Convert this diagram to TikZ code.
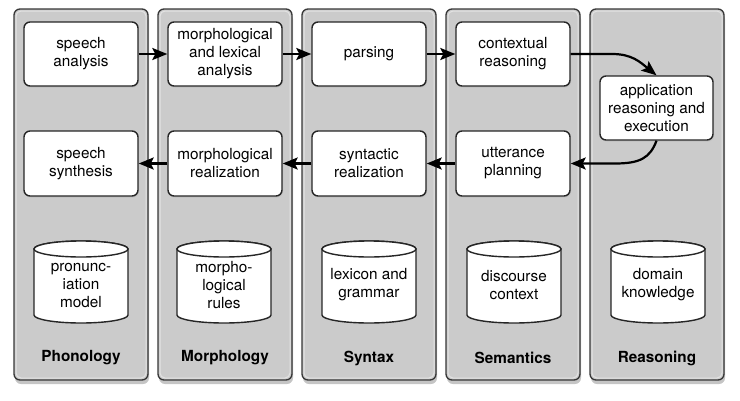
\documentclass[tikz,border=0pt]{standalone}
\usepackage{fontspec}
\setmainfont{TeX Gyre Heros}
\usetikzlibrary{arrows.meta,shadows}
\definecolor{panelgray}{RGB}{203,203,203}
\definecolor{panelline}{RGB}{55,55,55}
\begin{document}
\begin{tikzpicture}[x=1pt,y=-1pt,
  panel/.style={draw=panelline, line width=1.3pt, fill=panelgray, rounded corners=6pt,
    minimum width=134pt, minimum height=371pt, inner sep=0pt,
    drop shadow={opacity=0.45, shadow xshift=1pt, shadow yshift=-4pt}},
  panelhi/.style={draw=white, opacity=0.45, line width=1pt, rounded corners=5pt,
    minimum width=130pt, minimum height=367pt, inner sep=0pt},
  stepbox/.style={draw=black!85, line width=1.4pt, fill=white, rounded corners=6pt,
    minimum width=114pt, minimum height=64pt, align=center, inner sep=2pt,
    font=\fontsize{15.3}{18}\selectfont,
    drop shadow={opacity=0.15, shadow xshift=1pt, shadow yshift=-1.5pt}},
  dbbody/.style={draw=black!85, line width=1.4pt, fill=white},
  dbtext/.style={align=center, inner sep=0pt, font=\fontsize{15.3}{18}\selectfont},
  lab/.style={inner sep=0pt, font=\fontsize{15.3}{18}\selectfont\bfseries},
  arr/.style={line width=2.2pt, -{Stealth[length=15pt,width=12pt,inset=3pt]}}
]
\newcommand\mydb[3]{%
  \path[dbbody] (#1-47,249) -- (#1-47,315)
     arc[start angle=180, end angle=0, x radius=47, y radius=8]
     -- (#1+47,249)
     arc[start angle=0, end angle=-180, x radius=47, y radius=8] -- cycle;
  \draw[dbbody] (#1,249) ellipse [x radius=47, y radius=8];
  \node[dbtext] (#2) at (#1,285) {#3};}
\useasboundingbox[fill=white] (0,0) rectangle (740,400);

% panels
\foreach \cx/\nm in {81/pPhon, 225/pMorph, 369/pSyn, 513/pSem, 657/pReas}{
  \node[panel] (\nm) at (\cx,194.5) {};
  \node[panelhi] (\nm hi) at (\cx,194.5) {};
}

% row 1
\node[stepbox] (sa)  at (81,54)  {speech\\analysis};
\node[stepbox] (mla) at (225,54) {morphological\\and lexical\\analysis};
\node[stepbox] (par) at (369,54) {parsing};
\node[stepbox] (ctx) at (513,54) {contextual\\reasoning};
\node[stepbox, minimum width=113pt] (app) at (656.5,108) {application\\reasoning and\\execution};

% row 2
\node[stepbox, minimum height=65pt] (ss)   at (81,163.5)  {speech\\synthesis};
\node[stepbox, minimum height=65pt] (mr)   at (225,163.5) {morphological\\realization};
\node[stepbox, minimum height=65pt] (sr)   at (369,163.5) {syntactic\\realization};
\node[stepbox, minimum height=65pt] (up)   at (513,163.5) {utterance\\planning};

% arrows
\draw[arr] (sa) -- (mla);
\draw[arr] (mla) -- (par);
\draw[arr] (par) -- (ctx);
\draw[arr] (ctx.east) -- (612,54) .. controls (632,54) and (640,62) .. (app.north);
\draw[arr] (app.south) .. controls (650,158) and (640,163.5) .. (615,163.5) -- (up.east);
\draw[arr] (up) -- (sr);
\draw[arr] (sr) -- (mr);
\draw[arr] (mr) -- (ss);

% databases
\mydb{81}{dbPhon}{pronunc-\\iation\\model}
\mydb{224}{dbMorph}{morpho-\\logical\\rules}
\mydb{369}{dbSyn}{lexicon and\\grammar}
\mydb{514}{dbSem}{discourse\\context}
\mydb{658}{dbReas}{domain\\knowledge}

% labels
\node[lab] (lPhon)  at (81,358)  {Phonology};
\node[lab] (lMorph) at (225,358) {Morphology};
\node[lab] (lSyn)   at (369,358) {Syntax};
\node[lab] (lSem)   at (513,358) {Semantics};
\node[lab] (lReas)  at (657,358) {Reasoning};
\end{tikzpicture}
\end{document}
